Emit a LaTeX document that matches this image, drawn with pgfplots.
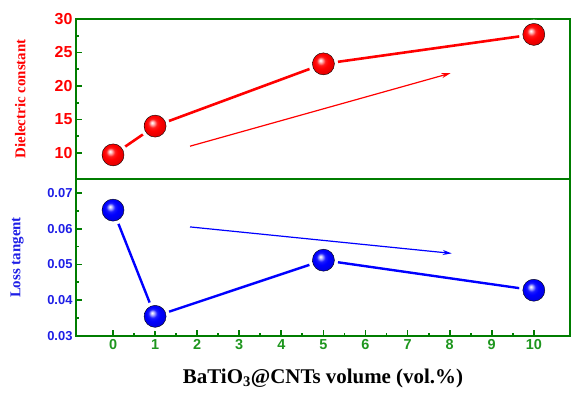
\documentclass[border=0pt]{standalone}
\usepackage{fontspec}
\setmainfont{Liberation Serif}
\newfontfamily\arialf{Liberation Sans}
\usepackage{pgfplots}
\pgfplotsset{compat=1.18}
\usetikzlibrary{arrows.meta}
\definecolor{fgreen}{RGB}{0,125,0}
\definecolor{tgreen}{RGB}{30,150,30}
\definecolor{lblue}{RGB}{30,30,230}
\makeatletter
\pgfdeclareradialshading[tikz@ball]{ball}{\pgfqpoint{-7bp}{8bp}}{%
 color(0bp)=(tikz@ball!0!white); color(3bp)=(tikz@ball!20!white); color(10bp)=(tikz@ball!90!white);
 color(16bp)=(tikz@ball); color(30bp)=(tikz@ball!85!black); color(40bp)=(tikz@ball!70!black); color(50bp)=(tikz@ball!60!black)}
\makeatother
\begin{document}
\begin{tikzpicture}
\path[use as bounding box] (-76bp,-57bp) rectangle (495bp,336bp);
\pgfplotsset{
 common/.style={
  scale only axis, width=494bp, xmin=-0.88, xmax=10.86,
  axis line style={fgreen, line width=2.4bp},
  tick style={fgreen, line width=1.8bp},
  major tick length=6bp, minor tick length=3.5bp,
  tick align=inside,
  xtick pos=left, ytick pos=left,
  scaled y ticks=false,
  axis on top=true,
  /pgf/number format/assume math mode=true,
  clip=false,
 }
}
% top panel
\begin{axis}[common, at={(0,157bp)}, height=160bp,
  ymin=6.1, ymax=30, ytick={10,15,20,25,30}, minor y tick num=1,
  xtick=\empty,
  yticklabel style={red, font=\arialf\bfseries\fontsize{16}{18}\selectfont},
  ylabel={Dielectric constant},
  ylabel style={red, font=\bfseries\fontsize{15}{17}\selectfont, at={(axis description cs:-0.113,0.5)}, anchor=center},
]
\addplot[red, line width=2.6bp, no markers] coordinates {(0,9.7) (1,14.0) (5,23.3) (10,27.7)};
\addplot[only marks, mark=*, mark size=14.5bp, mark options={fill=white, draw=white}] coordinates {(0,9.7) (1,14.0) (5,23.3) (10,27.7)};
\addplot[only marks, mark=ball, mark size=11bp, mark options={ball color=red}] coordinates {(0,9.7) (1,14.0) (5,23.3) (10,27.7)};
\draw[red, line width=1.2bp, -{Stealth[length=9bp,width=5bp]}] (axis cs:1.83,11.0) -- (axis cs:8.02,21.9);
\end{axis}
% bottom panel
\begin{axis}[common, at={(0,0)}, height=157bp,
  ymin=0.03, ymax=0.0739, ytick={0.03,0.04,0.05,0.06,0.07}, minor y tick num=1,
  xtick={0,1,2,3,4,5,6,7,8,9,10}, minor x tick num=1,
  yticklabel style={lblue, font=\arialf\bfseries\fontsize{13}{15}\selectfont, /pgf/number format/fixed, /pgf/number format/precision=2, /pgf/number format/fixed zerofill},
  xticklabel style={tgreen, font=\arialf\bfseries\fontsize{14.5}{17}\selectfont},
  ylabel={Loss tangent},
  ylabel style={lblue, font=\bfseries\fontsize{15}{17}\selectfont, at={(axis description cs:-0.119,0.5)}, anchor=center},
  xlabel={BaTiO\textsubscript{3}@CNTs volume (vol.\%)},
  xlabel style={font=\bfseries\fontsize{21}{24}\selectfont, at={(axis description cs:0.5,0)}, anchor=base, yshift=-47bp},
]
\addplot[blue, line width=2.4bp, no markers] coordinates {(0,0.0652) (1,0.0355) (5,0.0512) (10,0.0428)};
\addplot[only marks, mark=*, mark size=14.5bp, mark options={fill=white, draw=white}] coordinates {(0,0.0652) (1,0.0355) (5,0.0512) (10,0.0428)};
\addplot[only marks, mark=ball, mark size=11bp, mark options={ball color=blue}] coordinates {(0,0.0652) (1,0.0355) (5,0.0512) (10,0.0428)};
\draw[blue, line width=1.2bp, -{Stealth[length=9bp,width=5bp]}] (axis cs:1.83,0.0605) -- (axis cs:8.05,0.0531);
\end{axis}
\end{tikzpicture}
\end{document}
